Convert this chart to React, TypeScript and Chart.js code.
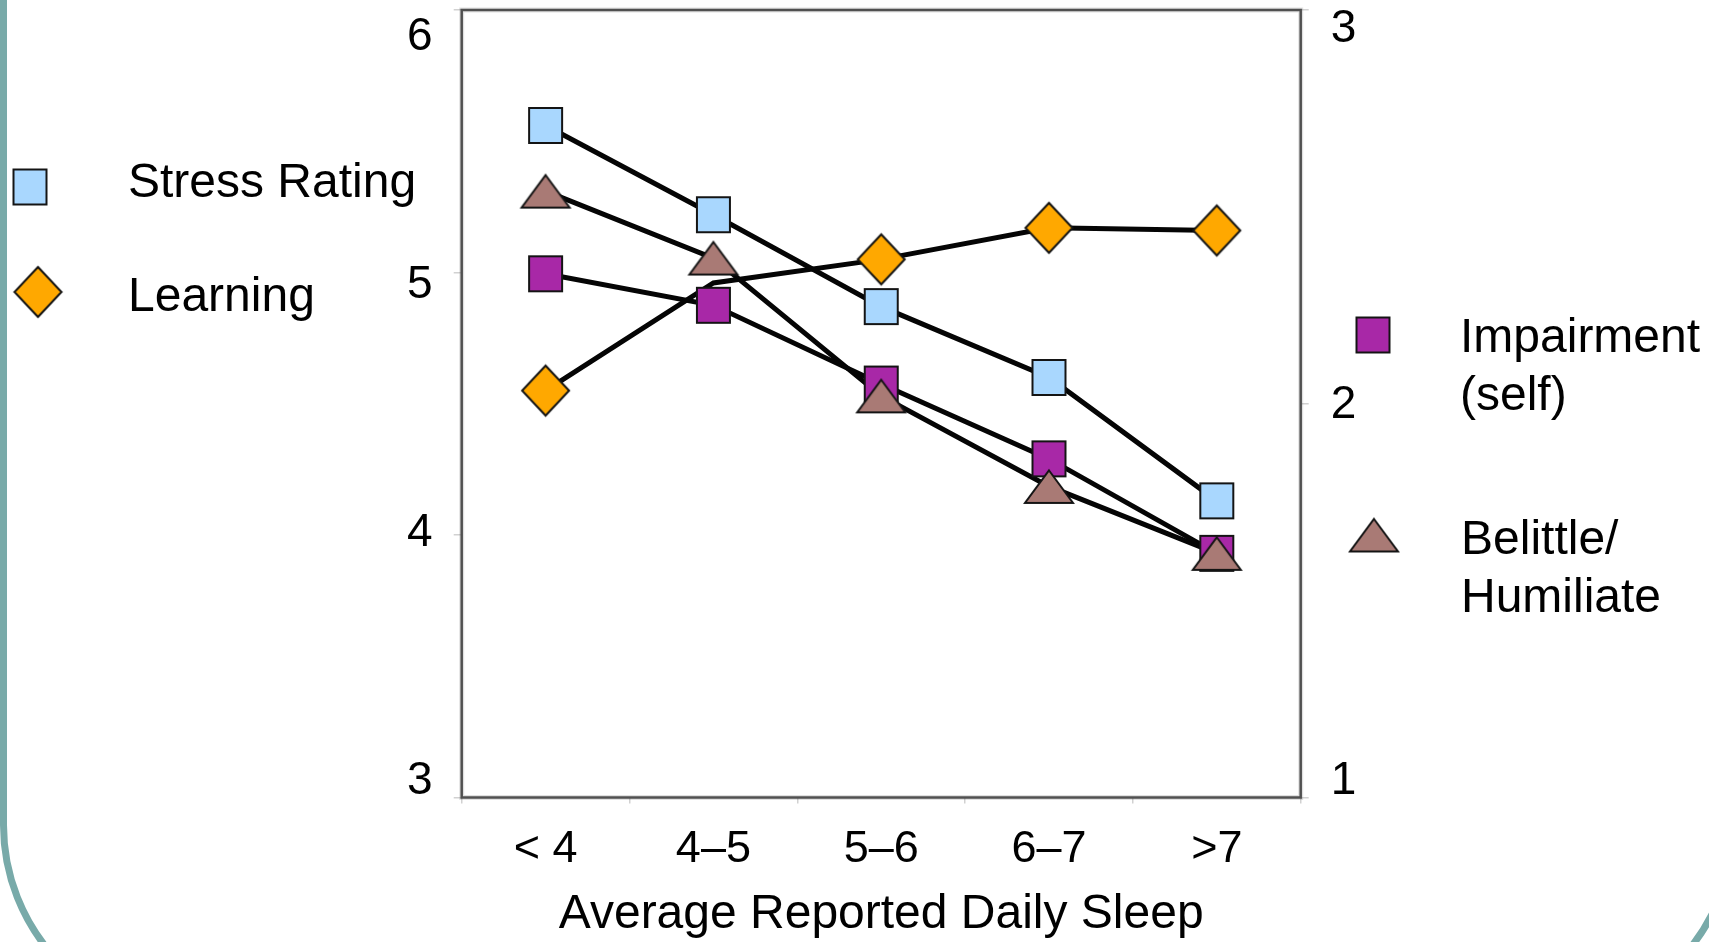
import React, { useEffect, useRef } from 'react';
import { Chart, registerables } from 'chart.js';

Chart.register(...registerables);

// ---------- data ----------
const categories = ['< 4', '4–5', '5–6', '6–7', '>7'];
const stressRating = [5.56, 5.22, 4.87, 4.6, 4.13];
const learning = [4.55, 4.96, 5.05, 5.17, 5.16];
const learningMarkerShown = [true, false, true, true, true];
const impairmentSelf = [2.33, 2.25, 2.05, 1.86, 1.62];
const belittleHumiliate = [2.54, 2.37, 2.02, 1.79, 1.62];
const leftTicks = [3, 4, 5, 6];
const rightTicks = [1, 2, 3];

// ---------- layout / style ----------
const W = 1709;
const H = 942;
const AREA = { left: 461.7, top: 10, right: 1300.7, bottom: 797.5 };
const FONT = '"Liberation Sans", Arial, Helvetica, sans-serif';
const TEAL = '#78aaa9';
const COLORS = {
  stress: '#a9d7fe',
  learning: '#ffa800',
  impairment: '#a828a7',
  belittle: '#a97a75',
};

function makeMarker(kind: string, w: number, h: number, fill: string): HTMLCanvasElement {
  const pad = 2;
  const c = document.createElement('canvas');
  c.width = w + pad * 2;
  c.height = h + pad * 2;
  const g = c.getContext('2d') as CanvasRenderingContext2D;
  g.translate(pad, pad);
  g.fillStyle = fill;
  g.strokeStyle = '#141414';
  g.lineWidth = 2;
  g.lineJoin = 'miter';
  g.beginPath();
  if (kind === 'square') {
    g.rect(1, 1, w - 2, h - 2);
  } else if (kind === 'diamond') {
    g.moveTo(w / 2, 1);
    g.lineTo(w - 1, h / 2);
    g.lineTo(w / 2, h - 1);
    g.lineTo(1, h / 2);
    g.closePath();
  } else {
    g.moveTo(w / 2, 1.5);
    g.lineTo(w - 1, h - 1);
    g.lineTo(1, h - 1);
    g.closePath();
  }
  g.fill();
  g.stroke();
  return c;
}

export default function App() {
  const canvasRef = useRef<HTMLCanvasElement | null>(null);

  useEffect(() => {
    const canvas = canvasRef.current;
    if (!canvas) return;

    const mStress = makeMarker('square', 35, 37, COLORS.stress);
    const mLearning = makeMarker('diamond', 49, 52, COLORS.learning);
    const mImpair = makeMarker('square', 35, 37, COLORS.impairment);
    const mBelittle = makeMarker('triangle', 50, 35, COLORS.belittle);

    const legendMarkers = [
      { img: mStress, x: 30, y: 187 },
      { img: mLearning, x: 38, y: 292 },
      { img: mImpair, x: 1373, y: 335 },
      { img: mBelittle, x: 1374, y: 535 },
    ];

    const series = [
      { label: 'Stress Rating', data: stressRating, axis: 'y', marker: mStress, order: 3, radius: stressRating.map(() => 6) },
      { label: 'Learning', data: learning, axis: 'y', marker: mLearning, order: 2, radius: learningMarkerShown.map((s) => (s ? 6 : 0)) },
      { label: 'Impairment (self)', data: impairmentSelf, axis: 'y1', marker: mImpair, order: 1, radius: impairmentSelf.map(() => 6) },
      { label: 'Belittle/Humiliate', data: belittleHumiliate, axis: 'y1', marker: mBelittle, order: 0, radius: belittleHumiliate.map(() => 6) },
    ];

    const datasets: any[] = [
      ...series.map((s) => ({
        type: 'line',
        label: s.label + ' (line)',
        data: s.data,
        yAxisID: s.axis,
        borderColor: '#050505',
        borderWidth: 5,
        pointRadius: 0,
        pointHoverRadius: 0,
        fill: false,
        tension: 0,
        order: 10,
      })),
      ...series.map((s) => ({
        type: 'line',
        label: s.label,
        data: s.data,
        yAxisID: s.axis,
        showLine: false,
        pointStyle: s.marker,
        pointRadius: s.radius,
        pointHoverRadius: s.radius,
        order: s.order,
      })),
    ];

    const tickGrid = (len: number) => ({
      display: true,
      drawOnChartArea: false,
      drawTicks: true,
      tickLength: len,
      color: 'rgba(0,0,0,0.18)',
      lineWidth: 1.5,
    });

    const noPad = (s: any) => {
      s.paddingTop = 0;
      s.paddingBottom = 0;
      s.paddingLeft = 0;
      s.paddingRight = 0;
    };

    const framePlugin = {
      id: 'frameAndLegend',
      beforeDatasetsDraw(chart: any) {
        const { ctx, chartArea: a } = chart;
        ctx.save();
        ctx.strokeStyle = 'rgba(0,0,0,0.12)';
        ctx.lineWidth = 5;
        ctx.strokeRect(a.left, a.top, a.right - a.left, a.bottom - a.top);
        ctx.strokeStyle = '#505050';
        ctx.lineWidth = 2.5;
        ctx.strokeRect(a.left, a.top, a.right - a.left, a.bottom - a.top);
        ctx.restore();
      },
      afterDraw(chart: any) {
        const ctx = chart.ctx;
        legendMarkers.forEach((m) => {
          ctx.drawImage(m.img, m.x - m.img.width / 2, m.y - m.img.height / 2);
        });
      },
    };

    const chart = new Chart(canvas, {
      type: 'line',
      data: { labels: categories, datasets },
      options: {
        animation: false,
        responsive: false,
        devicePixelRatio: 1,
        events: [],
        layout: { padding: { top: AREA.top, left: 0, right: 0, bottom: 0 }, autoPadding: false },
        plugins: { legend: { display: false }, tooltip: { enabled: false } },
        scales: {
          x: {
            type: 'category',
            position: 'bottom',
            offset: true,
            grid: { ...tickGrid(6), offset: true },
            border: { display: false },
            ticks: {
              color: '#000',
              font: { family: FONT, size: 45 },
              padding: 19,
              maxRotation: 0,
              autoSkip: false,
            },
            title: {
              display: true,
              text: 'Average Reported Daily Sleep',
              color: '#000',
              font: { family: FONT, size: 48, lineHeight: 1.14 },
              padding: { top: 0, bottom: 0 },
            },
            afterFit: (s: any) => {
              s.height = H - AREA.bottom;
              noPad(s);
            },
          },
          y: {
            type: 'linear',
            position: 'left',
            weight: 0,
            min: 3,
            max: 6,
            ticks: { display: false, stepSize: 1 },
            grid: tickGrid(8),
            border: { display: false },
            afterFit: (s: any) => {
              s.width = 8;
              noPad(s);
            },
          },
          yLabels: {
            type: 'linear',
            position: 'left',
            weight: 10,
            min: 2.9349,
            max: 6.1115,
            afterBuildTicks: (s: any) => {
              s.ticks = leftTicks.map((v) => ({ value: v }));
            },
            ticks: { color: '#000', font: { family: FONT, size: 46 }, padding: 21 },
            grid: { display: false, drawTicks: false },
            border: { display: false },
            afterFit: (s: any) => {
              s.width = AREA.left - 8;
              noPad(s);
            },
          },
          y1: {
            type: 'linear',
            position: 'right',
            weight: 0,
            min: 1,
            max: 3,
            ticks: { display: false, stepSize: 1 },
            grid: tickGrid(8),
            border: { display: false },
            afterFit: (s: any) => {
              s.width = 8;
              noPad(s);
            },
          },
          y1Labels: {
            type: 'linear',
            position: 'right',
            weight: 10,
            min: 0.9575,
            max: 3.0502,
            afterBuildTicks: (s: any) => {
              s.ticks = rightTicks.map((v) => ({ value: v }));
            },
            ticks: { color: '#000', font: { family: FONT, size: 46 }, padding: 22 },
            grid: { display: false, drawTicks: false },
            border: { display: false },
            afterFit: (s: any) => {
              s.width = W - AREA.right - 8;
              noPad(s);
            },
          },
        },
      } as any,
      plugins: [framePlugin],
    });

    return () => {
      chart.destroy();
    };
  }, []);

  const legendText: React.CSSProperties = {
    position: 'absolute',
    fontFamily: FONT,
    fontSize: 48,
    lineHeight: '58px',
    color: '#000',
    whiteSpace: 'pre',
    margin: 0,
  };

  return (
    <div
      style={{
        position: 'fixed',
        left: 0,
        top: 0,
        width: W,
        height: H,
        overflow: 'hidden',
        background: '#fff',
      }}
    >
      <div
        style={{
          position: 'absolute',
          left: 0,
          top: -300,
          width: 1737,
          height: 1325,
          boxSizing: 'border-box',
          border: `7px solid ${TEAL}`,
          borderRadius: 200,
        }}
      />
      <canvas
        ref={canvasRef}
        width={W}
        height={H}
        style={{ position: 'absolute', left: 0, top: 0, display: 'block', width: W, height: H }}
      />
      <div style={{ ...legendText, left: 128, top: 152.4 }}>Stress Rating</div>
      <div style={{ ...legendText, left: 128, top: 266.1 }}>Learning</div>
      <div style={{ ...legendText, left: 1460, top: 307.1 }}>{'Impairment\n(self)'}</div>
      <div style={{ ...legendText, left: 1461, top: 509.4 }}>{'Belittle/\nHumiliate'}</div>
    </div>
  );
}
